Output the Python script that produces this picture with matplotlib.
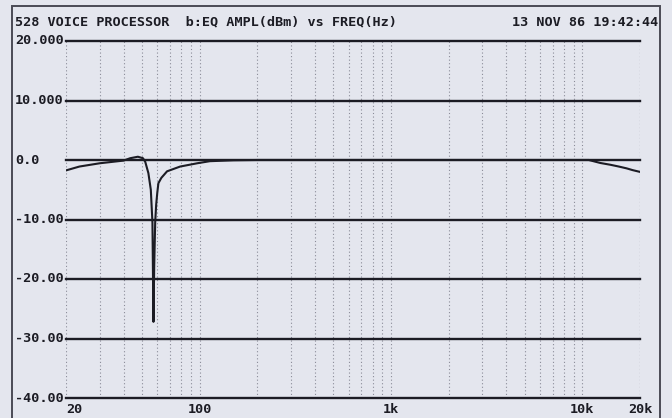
import matplotlib
matplotlib.use("Agg")
import matplotlib.pyplot as plt
from matplotlib.patches import Rectangle

# ---- data ----
freq_hz = [20, 23.5, 30, 40, 43.3, 47.5, 50.5, 51.9, 53.9, 55.5, 56.6, 57.3,
           57.8, 58.5, 59.2, 60, 60.8, 63, 67.5, 79, 97, 113, 150, 200,
           1000, 5000, 10800, 12400, 14000, 15500, 17000, 18300, 20000]
ampl_dbm = [-1.75, -1.1, -0.55, -0.1, 0.3, 0.55, 0.3, -0.3, -2.2, -5.0, -10.5, -27.2,
            -18.0, -10.5, -7.5, -5.5, -3.9, -3.0, -1.9, -1.1, -0.55, -0.2, -0.05, 0.0,
            0.0, 0.0, 0.0, -0.5, -0.8, -1.1, -1.4, -1.7, -2.0]
y_ticks = [20, 10, 0, -10, -20, -30, -40]
y_labels = ["20.000", "10.000", "0.0", "-10.00", "-20.00", "-30.00", "-40.00"]
x_ticks = [20, 100, 1000, 10000, 20000]
x_labels = ["20", "100", "1k", "10k", "20k"]
title_left = "528 VOICE PROCESSOR  b:EQ AMPL(dBm) vs FREQ(Hz)"
title_right = "13 NOV 86 19:42:44"

W, H = 672, 418
BG = "#e4e6ee"
INK = "#1c1c24"
FONT = dict(family="DejaVu Sans Mono", fontweight="bold", fontsize=9.7, color=INK)

fig = plt.figure(figsize=(W / 100, H / 100), dpi=100, facecolor=BG)

# outer frame
fig.add_artist(Rectangle((12 / W, -0.05), (660 - 12) / W, 1.05 - 6 / H,
                         transform=fig.transFigure, fill=False,
                         edgecolor="#4a4a55", lw=1.4))

x0, x1 = 66, 640
yt, yb = 41, 398
ax = fig.add_axes([x0 / W, 1 - yb / H, (x1 - x0) / W, (yb - yt) / H])
ax.set_facecolor(BG)
ax.set_xscale("log")
ax.set_xlim(20, 20000)
ax.set_ylim(-40, 20)
for s in ax.spines.values():
    s.set_visible(False)
ax.set_xticks([])
ax.set_yticks([])
ax.minorticks_off()

# vertical dotted log grid
grid_f = []
for dec in [10, 100, 1000, 10000]:
    for m in range(1, 10):
        f = m * dec
        if 20 <= f <= 20000:
            grid_f.append(f)
grid_f.append(20000)
for f in grid_f:
    ax.axvline(f, color="#8a8b98", lw=0.8, linestyle=(0, (1, 2.2)), zorder=1)

# horizontal solid lines
for yv in y_ticks:
    ax.axhline(yv, color=INK, lw=1.7, zorder=2, clip_on=False)

# data curve
ax.plot(freq_hz, ampl_dbm, color=INK, lw=1.5, zorder=3)

# y labels
for yv, lab in zip(y_ticks, y_labels):
    ypix = yt + (20 - yv) / 60 * (yb - yt)
    fig.text(15 / W, 1 - ypix / H, lab, ha="left", va="center", **FONT)

# x labels
for xv, lab in zip(x_ticks, x_labels):
    ha = "left" if lab == "20" else "center"
    ax.text(xv, -40, lab, ha=ha, va="top", transform=ax.transData,
            clip_on=False, **FONT)
    ax.texts[-1].set_y(-40.9)

# header
fig.text(15 / W, 1 - 22 / H, title_left, ha="left", va="center", **FONT)
fig.text(658 / W, 1 - 22 / H, title_right, ha="right", va="center", **FONT)

fig.savefig("out.png", dpi=100, facecolor=BG)
